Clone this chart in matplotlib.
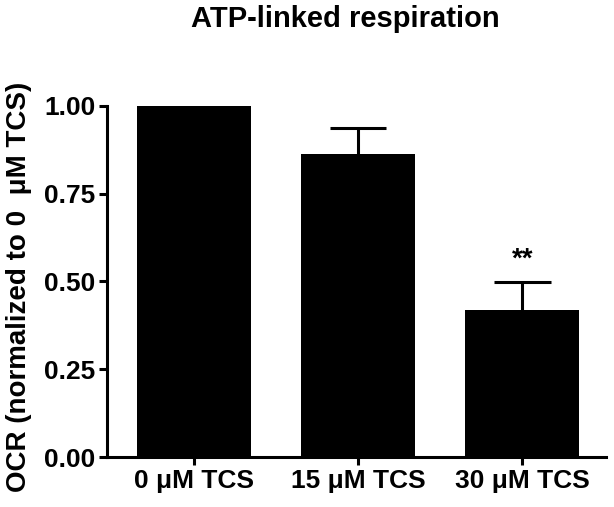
import matplotlib
matplotlib.use('Agg')
import matplotlib.pyplot as plt

plt.rcParams['font.family'] = ['Liberation Sans', 'DejaVu Sans']
plt.rcParams['font.weight'] = 'bold'

# dados
grupos = ['0 μM TCS', '15 μM TCS', '30 μM TCS']
ocr = [1.00, 0.863, 0.419]
erro = [0.0, 0.074, 0.080]
sig = ['', '', '**']
y_ticks = [0.00, 0.25, 0.50, 0.75, 1.00]

fig = plt.figure(figsize=(6.14, 5.07), dpi=100)
ax = fig.add_axes([0.1743, 0.0986, 0.8127, 0.6924])

x = list(range(len(grupos)))
largura = 0.693
ax.bar(x, ocr, width=largura, color='black', zorder=2)

# barras de erro so pra cima, sem cap embaixo
for xi, v, e in zip(x, ocr, erro):
    if e > 0:
        ax.vlines(xi, v, v + e, color='black', linewidth=2.2, zorder=1)
        ax.hlines(v + e, xi - largura / 4, xi + largura / 4, color='black', linewidth=2.2, zorder=1)

# asteriscos
for xi, v, e, s in zip(x, ocr, erro, sig):
    if s:
        ax.text(xi, v + e + 0.025, s, ha='center', va='bottom', fontsize=20, fontweight='bold')

ax.set_xlim(-0.526, 2.508)
ax.set_ylim(0, 1.0)
ax.set_yticks(y_ticks)
ax.set_yticklabels([f'{t:.2f}' for t in y_ticks])
ax.set_xticks(x)
ax.set_xticklabels(grupos)

for lado in ['top', 'right']:
    ax.spines[lado].set_visible(False)
for lado in ['left', 'bottom']:
    ax.spines[lado].set_linewidth(2.2)
    ax.spines[lado].set_capstyle('projecting')

ax.tick_params(axis='both', width=2.2, length=5.5, labelsize=19, pad=3)
for lbl in ax.get_xticklabels() + ax.get_yticklabels():
    lbl.set_fontweight('bold')

fig.text(19 / 614, 1 - 287 / 507, 'OCR (normalized to 0  μM TCS)', rotation=90,
         ha='center', va='center', fontsize=20, fontweight='bold')
fig.text(345 / 614, 1 - 19 / 507, 'ATP-linked respiration', ha='center', va='center',
         fontsize=21, fontweight='bold')

fig.savefig('out.png', dpi=100)
